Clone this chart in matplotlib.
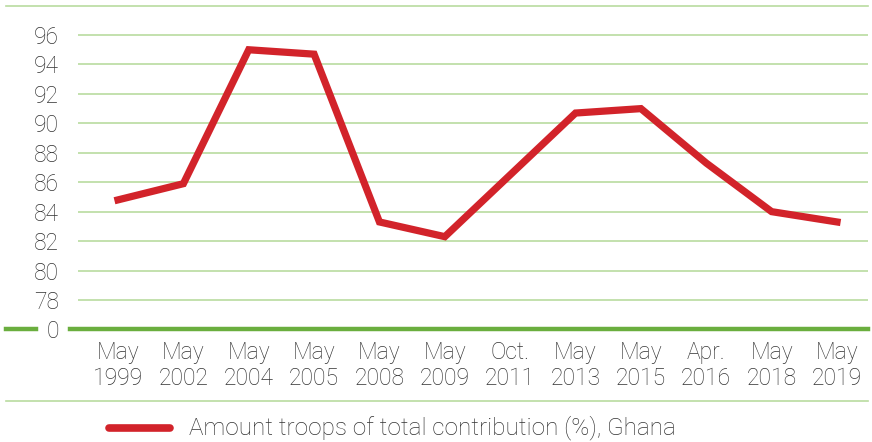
import matplotlib
matplotlib.use("Agg")
import matplotlib.pyplot as plt
from matplotlib.lines import Line2D

# Data
dates = ["May\n1999", "May\n2002", "May\n2004", "May\n2005", "May\n2008", "May\n2009",
         "Oct.\n2011", "May\n2013", "May\n2015", "Apr.\n2016", "May\n2018", "May\n2019"]
share = [84.8, 85.9, 95.0, 94.7, 83.3, 82.3, 86.5, 90.7, 91.0, 87.3, 84.0, 83.3]
yticks = [78, 80, 82, 84, 86, 88, 90, 92, 94, 96]
series_name = "Amount troops of total contribution (%), Ghana"

plt.rcParams['font.family'] = ['Roboto', 'DejaVu Sans']

RED = "#d2232a"
GRID = "#b9dba0"
GREEN = "#6aae3e"
TXT = "#333333"

W, H = 872, 442
fig = plt.figure(figsize=(W / 100, H / 100), dpi=100)

# axes in pixel coords: x 78..868, y 5.6..329.4
left, right, top, bottom = 78, 868, 5.6, 329.4
ax = fig.add_axes([left / W, 1 - bottom / H, (right - left) / W, (bottom - top) / H])

x = list(range(len(share)))
step = (837 - 118) / 11
ax.set_xlim((left - 118) / step, 11 + (right - 837) / step)
ax.set_ylim(76, 98)

for v in yticks:
    ax.axhline(v, color=GRID, lw=1.2, zorder=1)

ax.plot(x, share, color=RED, lw=5.2, solid_joinstyle="miter", zorder=3)

ax.set_yticks(yticks + [76])
ax.set_yticklabels([str(v) for v in yticks] + ["0"])
ax.set_xticks(x)
ax.set_xticklabels(dates, linespacing=1.2)
ax.tick_params(axis="both", length=0, labelsize=16.5, labelcolor=TXT)
ax.tick_params(axis="y", pad=13.5)
ax.tick_params(axis="x", pad=8)
for lab in ax.get_xticklabels() + ax.get_yticklabels():
    lab.set_fontweight("light")
for s in ax.spines.values():
    s.set_visible(False)
ax.patch.set_alpha(0)

# figure-level lines (pixel coords -> figure fraction)
def fl(x0, x1, ypix, **kw):
    fig.add_artist(Line2D([x0 / W, x1 / W], [1 - ypix / H, 1 - ypix / H],
                          transform=fig.transFigure, **kw))

fl(6, 868, 5.6, color=GRID, lw=1.2)          # top line
fl(6, 36, 329.4, color=GREEN, lw=3.2)         # zero line, left stub
fl(70, 868, 329.4, color=GREEN, lw=3.2)       # zero line
fl(6, 868, 401, color=GRID, lw=1.2)           # separator

# legend
fl(109, 170, 428, color=RED, lw=5.5, solid_capstyle="round")
fig.text(189 / W, 1 - 428 / H, series_name, fontsize=17.5, color=TXT,
         va="center", ha="left", fontweight="light")

fig.savefig("out.png", dpi=100)
